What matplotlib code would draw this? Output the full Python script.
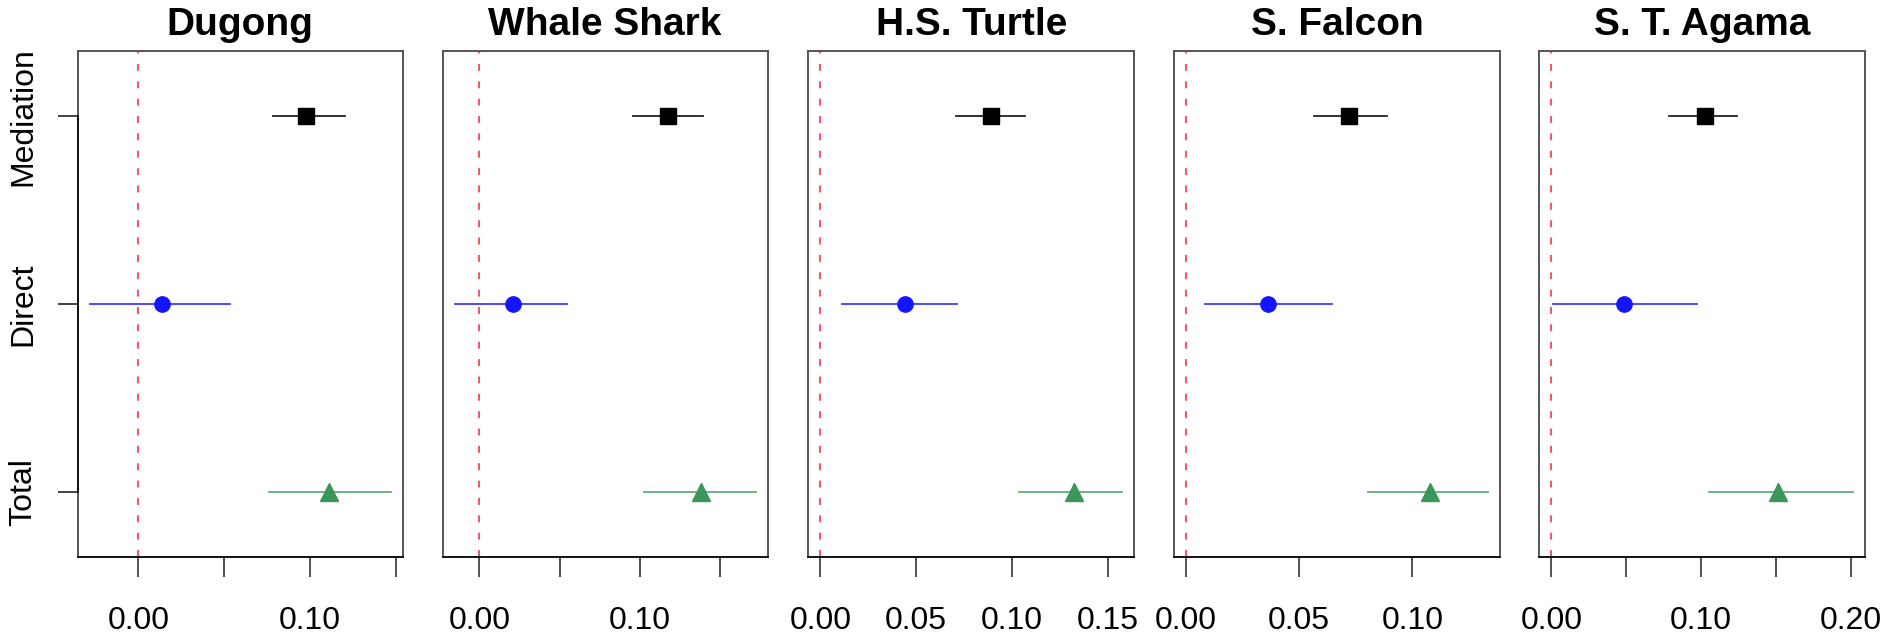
import matplotlib
matplotlib.use("Agg")
import matplotlib.pyplot as plt

plt.rcParams['font.family'] = ['Liberation Sans', 'DejaVu Sans']
plt.rcParams['lines.scale_dashes'] = False

# Effect estimates and 95% CIs
species = ["Dugong", "Whale Shark", "H.S. Turtle", "S. Falcon", "S. T. Agama"]
effects = ["Total", "Direct", "Mediation"]

mediation_est = [0.0979, 0.1174, 0.0892, 0.0719, 0.1028]
mediation_lo = [0.0783, 0.0953, 0.0706, 0.0564, 0.0789]
mediation_hi = [0.1205, 0.1391, 0.1070, 0.0888, 0.1242]

direct_est = [0.0140, 0.0207, 0.0440, 0.0362, 0.0488]
direct_lo = [-0.0283, -0.0153, 0.0115, 0.0084, 0.0011]
direct_hi = [0.0533, 0.0547, 0.0713, 0.0645, 0.0975]

total_est = [0.1114, 0.1377, 0.1326, 0.1080, 0.1514]
total_lo = [0.0763, 0.1023, 0.1037, 0.0803, 0.1052]
total_hi = [0.1471, 0.1719, 0.1576, 0.1334, 0.2015]

xticks = [
    [0.0, 0.05, 0.10, 0.15],
    [0.0, 0.05, 0.10, 0.15],
    [0.0, 0.05, 0.10, 0.15],
    [0.0, 0.05, 0.10],
    [0.0, 0.05, 0.10, 0.15, 0.20],
]
xticklabels = [
    ["0.00", "", "0.10", ""],
    ["0.00", "", "0.10", ""],
    ["0.00", "0.05", "0.10", "0.15"],
    ["0.00", "0.05", "0.10"],
    ["0.00", "", "0.10", "", "0.20"],
]

W, H = 1889, 641
lefts = [77.7, 442.7, 808.3, 1174.0, 1539.3]
rights = [402.7, 767.7, 1134.3, 1500.0, 1865.0]
top_px, bot_px = 50.7, 557.3

fig = plt.figure(figsize=(W / 100, H / 100), dpi=100)

for i, name in enumerate(species):
    ax = fig.add_axes([lefts[i] / W, 1 - bot_px / H,
                       (rights[i] - lefts[i]) / W, (bot_px - top_px) / H])

    rows = [
        (1, total_est[i], total_lo[i], total_hi[i], '^', '#3b9659', '#62ad7b', 13),
        (2, direct_est[i], direct_lo[i], direct_hi[i], 'o', '#1414ff', '#3c3cff', 11),
        (3, mediation_est[i], mediation_lo[i], mediation_hi[i], 's', 'black', '#222222', 11),
    ]
    for y, est, lo, hi, mk, mcol, lcol, ms in rows:
        ax.plot([lo, hi], [y, y], color=lcol, lw=1.3, zorder=2)
        ax.plot([est], [y], marker=mk, color=mcol, ms=ms, ls='none', zorder=3)

    ax.axvline(0, color='#ee5c6c', lw=1.5, ls=(0, (5, 7.5)), zorder=1)

    # R-style axis range: data range (incl. 0) padded by 4%
    lo_all = min(0, mediation_lo[i], direct_lo[i], total_lo[i])
    hi_all = max(mediation_hi[i], direct_hi[i], total_hi[i])
    pad = 0.04 * (hi_all - lo_all)
    ax.set_xlim(lo_all - pad, hi_all + pad)
    ax.set_ylim(0.65, 3.35)

    ax.set_xticks(xticks[i])
    ax.set_xticklabels(xticklabels[i], fontsize=23)
    ax.tick_params(axis='x', length=14.4, width=1.2, color='#333333', pad=21)

    for s in ax.spines.values():
        s.set_color('#555555')
        s.set_linewidth(1.4)
    ax.spines['bottom'].set_color('#111111')

    if i == 0:
        ax.set_yticks([1, 2, 3])
        ax.set_yticklabels(effects, fontsize=23, rotation=90, va='center')
        ax.tick_params(axis='y', length=14.4, width=1.2, color='#222222', pad=14)
        ax.plot([0, 0], [1, 3], color='#111111', lw=1.4,
                transform=ax.get_yaxis_transform(), clip_on=False, zorder=4)
    else:
        ax.set_yticks([])

    ax.set_title(name, fontsize=28, fontweight='bold', pad=11)

fig.savefig("out.png", dpi=100)
